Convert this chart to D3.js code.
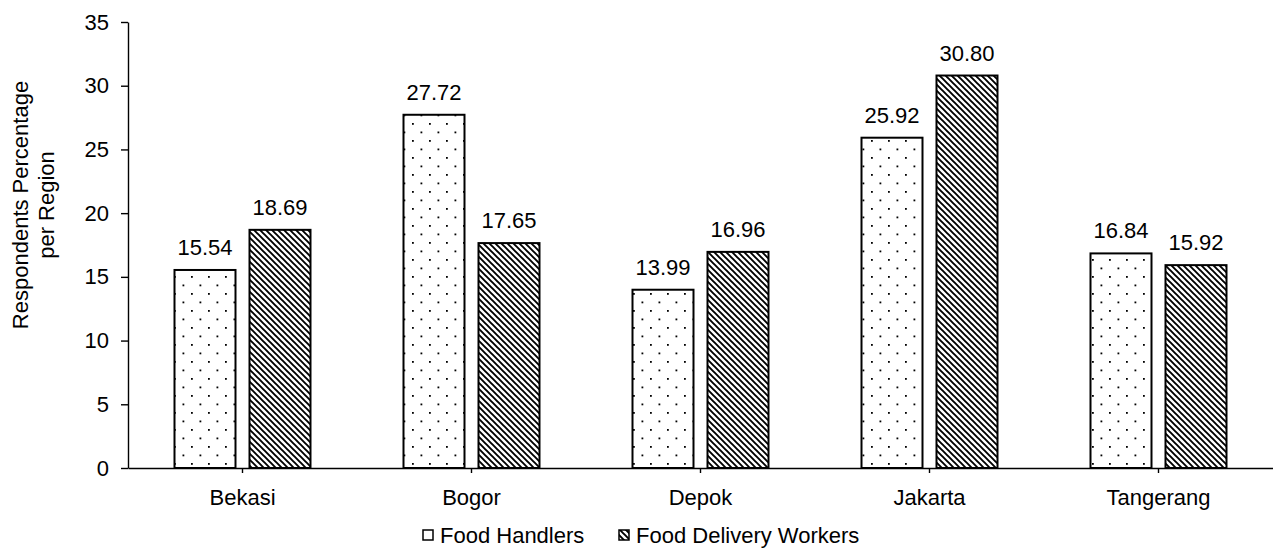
<!DOCTYPE html>
<html><head><meta charset="utf-8">
<script src="https://cdn.jsdelivr.net/npm/d3@7"></script>
<style>
body{margin:0;background:#fff;}
svg text{font-family:"Liberation Sans",Arial,sans-serif;fill:#000;}
</style></head>
<body><svg id="c" width="1273" height="550"></svg>
<script>
const categories = ["Bekasi","Bogor","Depok","Jakarta","Tangerang"];
const seriesNames = ["Food Handlers","Food Delivery Workers"];
const foodHandlers = [15.54,27.72,13.99,25.92,16.84];
const foodDelivery = [18.69,17.65,16.96,30.80,15.92];
const yTicks = [0,5,10,15,20,25,30,35];
const yTitle = ["Respondents Percentage","per Region"];

const svg = d3.select("#c");
const FS = 22;
const defs = svg.append("defs");
const dots = defs.append("pattern").attr("id","dots").attr("patternUnits","userSpaceOnUse")
  .attr("width",17).attr("height",17);
dots.append("rect").attr("width",17).attr("height",17).attr("fill","#fff");
dots.append("rect").attr("x",4).attr("y",4).attr("width",1.8).attr("height",1.8).attr("fill","#000");
dots.append("rect").attr("x",12.5).attr("y",12.5).attr("width",1.8).attr("height",1.8).attr("fill","#000");
const diag = defs.append("pattern").attr("id","diag").attr("patternUnits","userSpaceOnUse")
  .attr("width",6).attr("height",6);
diag.append("rect").attr("width",6).attr("height",6).attr("fill","#fff");
diag.append("path").attr("d","M-1,-1L7,7M-4,2L2,8M2,-4L8,2").attr("stroke","#000").attr("stroke-width",1.9);

const x0 = 128, x1 = 1273, yTop = 22, yBot = 468;
const x = d3.scaleBand().domain(categories).range([x0,x1]).paddingInner(0).paddingOuter(0);
const xs = d3.scaleBand().domain(seriesNames).range([0,x.bandwidth()]).paddingInner(0.1867).paddingOuter(0.62);
const y = d3.scaleLinear().domain([0,35]).range([yBot,yTop]);

const data = categories.map((c,i)=>({cat:c, vals:[foodHandlers[i], foodDelivery[i]]}));
const fills = ["url(#dots)","url(#diag)"];

const g = svg.append("g");
data.forEach(d=>{
  d.vals.forEach((v,j)=>{
    const bx = x(d.cat)+xs(seriesNames[j]);
    g.append("rect").attr("x",bx).attr("y",y(v)).attr("width",xs.bandwidth()).attr("height",y(0)-y(v))
      .attr("fill",fills[j]).attr("stroke","#000").attr("stroke-width",2);
    g.append("text").attr("x",bx+xs.bandwidth()/2).attr("y",y(v)-15).attr("text-anchor","middle")
      .attr("font-size",FS).text(v.toFixed(2));
  });
});

const yAxis = svg.append("g").attr("transform",`translate(${x0},0)`)
  .call(d3.axisLeft(y).tickValues(yTicks).tickSize(7).tickSizeOuter(0).tickPadding(12));
yAxis.selectAll("text").attr("font-size",FS).attr("font-family","Liberation Sans,Arial,sans-serif");
yAxis.selectAll("line,path").attr("stroke","#000").attr("stroke-width",1.4);

const xAxis = svg.append("g").attr("transform",`translate(0,${yBot})`)
  .call(d3.axisBottom(x).tickSize(5).tickSizeOuter(0).tickPadding(16));
xAxis.selectAll("text").attr("font-size",FS).attr("font-family","Liberation Sans,Arial,sans-serif");
xAxis.selectAll("line,path").attr("stroke","#000").attr("stroke-width",1.4);

const t = svg.append("text").attr("transform","translate(0,205) rotate(-90)").attr("text-anchor","middle").attr("font-size",FS);
t.append("tspan").attr("x",0).attr("y",28).text(yTitle[0]);
t.append("tspan").attr("x",0).attr("y",54).text(yTitle[1]);

const legX = [423,619];
seriesNames.forEach((s,j)=>{
  svg.append("rect").attr("x",legX[j]).attr("y",530).attr("width",10).attr("height",10)
    .attr("fill",j===0?"#fff":"url(#diag)").attr("stroke","#000").attr("stroke-width",1.5);
  svg.append("text").attr("x",legX[j]+17).attr("y",543).attr("font-size",FS).text(s);
});
</script></body></html>
